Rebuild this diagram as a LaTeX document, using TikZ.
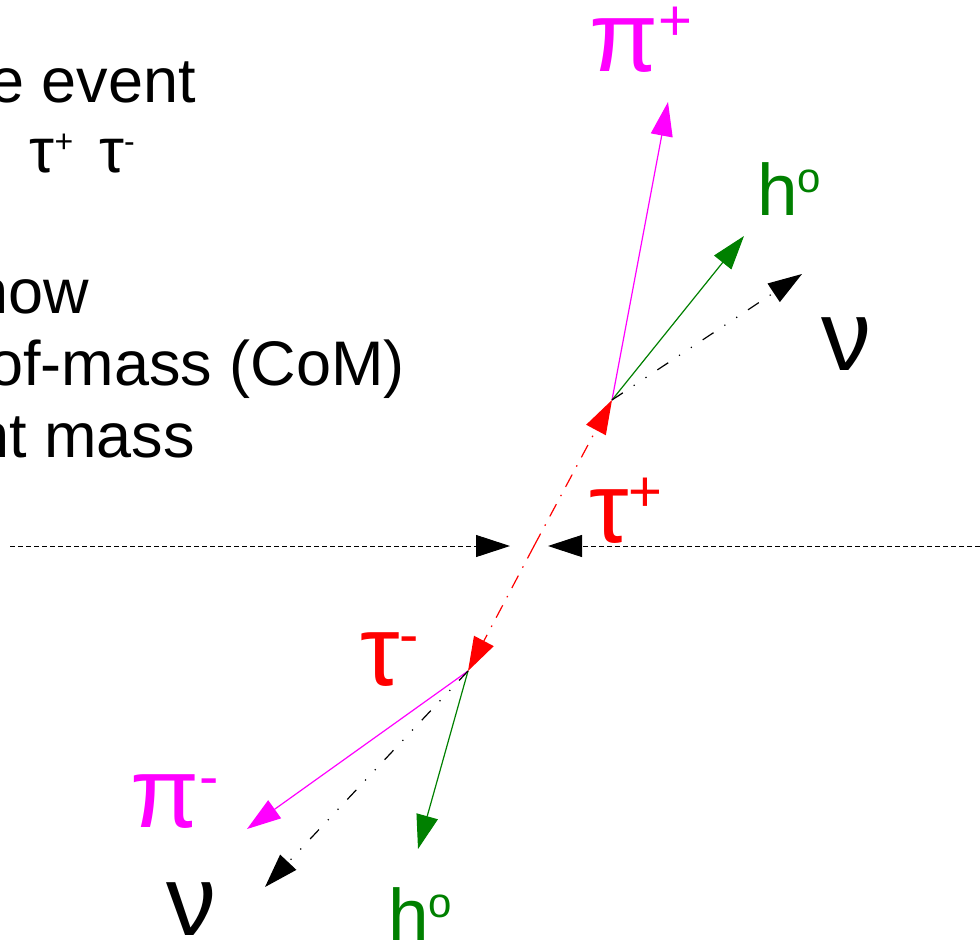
\documentclass[tikz,border=0pt]{standalone}
\usepackage{fontspec}
\setmainfont{Liberation Sans}
\usetikzlibrary{arrows.meta}

% superscripts for the big labels, the h labels and the text block
\newcommand\supbig[1]{\raisebox{31pt}{\fontsize{58}{58}\selectfont #1}}
\newcommand\suph[1]{\raisebox{23pt}{\fontsize{42}{42}\selectfont #1}}
\newcommand\suptxt[1]{\raisebox{20pt}{\fontsize{32}{32}\selectfont #1}}

\definecolor{pimag}{RGB}{255,0,255}
\definecolor{hgreen}{RGB}{0,128,0}

\begin{document}
\begin{tikzpicture}[x=1pt,y=-1pt]
    % Styles
    \tikzset{
      arrowhd/.style={-{Triangle[length=34pt,width=22pt]}},
      axis line/.style={arrowhd, black, line width=1pt, dash pattern=on 5pt off 3pt},
      tau line/.style={arrowhd, red, line width=1.2pt, dash pattern=on 14pt off 9pt on 1.5pt off 9pt},
      pion line/.style={arrowhd, pimag, line width=1.2pt},
      hadron line/.style={arrowhd, hgreen, line width=1.2pt},
      nu line/.style={arrowhd, black, line width=1.2pt, dash pattern=on 13pt off 13pt on 1.2pt off 13pt on 1.2pt off 13pt},
      big label/.style={inner sep=0pt, anchor=base west, font=\fontsize{100}{100}\selectfont},
      h label/.style={inner sep=0pt, anchor=base west, font=\fontsize{73}{73}\selectfont},
      txt line/.style={inner sep=0pt, anchor=base east, font=\fontsize{63}{71}\selectfont}
    }
    \useasboundingbox (0,0) rectangle (980,946);

    % --- Text block (cut by the left edge) ---
    \node[txt line] (line1) at (196,102) {e event};
    \node[txt line] (line2) at (135,172) {→\hspace{3pt} τ\suptxt{+}\hspace{26pt}τ\suptxt{-}};
    \node[txt line] (line3) at (89,313) {now};
    \node[txt line] (line4) at (405,385) {of-mass (CoM)};
    \node[txt line] (line5) at (195,457) {nt mass};

    % --- Beam axis ---
    \coordinate (axL) at (10,546);
    \coordinate (axR) at (980,546);
    \coordinate (axLtip) at (510,546);
    \coordinate (axRtip) at (548,546);
    \draw[axis line] (axL) -- (axLtip);
    \draw[axis line] (axR) -- (axRtip);

    % --- Tau pair from the CoM point ---
    \coordinate (com) at (534,546);
    \coordinate (taup) at (612,400);
    \coordinate (taum) at (468,671);
    \draw[tau line] (com) -- (taup);
    \draw[tau line] (com) -- (taum);

    % --- Decay of the tau+ ---
    \coordinate (pipEnd) at (668,102);
    \coordinate (hupEnd) at (744,236);
    \coordinate (nuupEnd) at (802,274);
    \draw[pion line] (taup) -- (pipEnd);
    \draw[hadron line] (taup) -- (hupEnd);
    \draw[nu line] (taup) -- (nuupEnd);

    % --- Decay of the tau- ---
    \coordinate (pimEnd) at (247,829);
    \coordinate (hdnEnd) at (418,849);
    \coordinate (nudnEnd) at (265,887);
    \draw[pion line] (taum) -- (pimEnd);
    \draw[hadron line] (taum) -- (hdnEnd);
    \draw[nu line] (taum) -- (nudnEnd);

    % --- Particle labels ---
    \node[big label, pimag] (pipLab) at (589,71) {π\supbig{+}};
    \node[h label, hgreen] (hupLab) at (757,215) {h\suph{o}};
    \node[big label, black] (nuupLab) at (821,370) {ν};
    \node[big label, red] (taupLab) at (589,542) {τ\supbig{+}};
    \node[big label, red] (taumLab) at (360,685) {τ\supbig{-}};
    \node[big label, pimag] (pimLab) at (130,827) {π\supbig{-}};
    \node[big label, black] (nudnLab) at (166,935) {ν};
    \node[h label, hgreen] (hdnLab) at (388,940) {h\suph{o}};

  \end{tikzpicture}
\end{document}
